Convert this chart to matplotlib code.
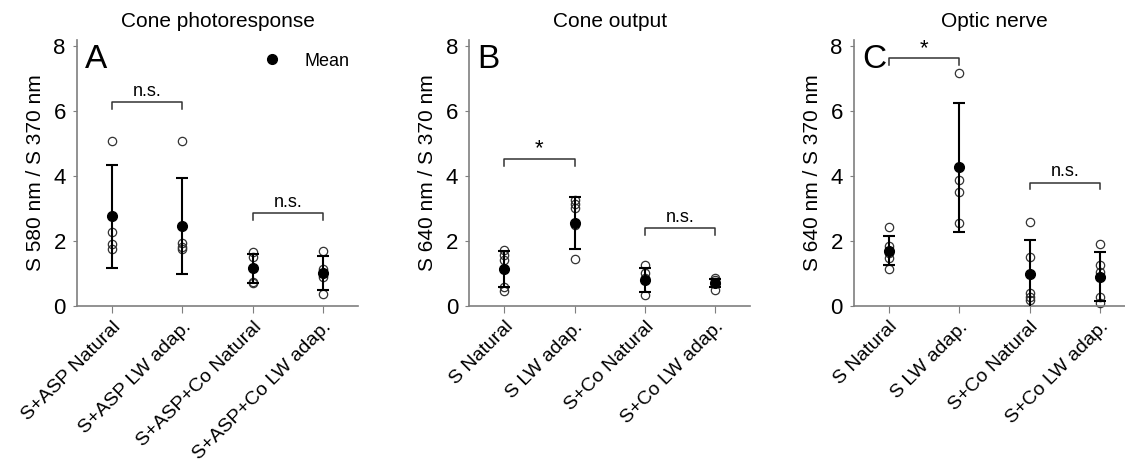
import matplotlib
matplotlib.use("Agg")
import matplotlib.pyplot as plt
from matplotlib.lines import Line2D

plt.rcParams["font.family"] = ["Liberation Sans", "DejaVu Sans"]

# --- Data ---
titles = ["Cone photoresponse", "Cone output", "Optic nerve"]
letters = ["A", "B", "C"]
ylabels = ["S 580 nm / S 370 nm", "S 640 nm / S 370 nm", "S 640 nm / S 370 nm"]

labels_a = ["S+ASP Natural", "S+ASP LW adap.", "S+ASP+Co Natural", "S+ASP+Co LW adap."]
labels_bc = ["S Natural", "S LW adap.", "S+Co Natural", "S+Co LW adap."]

# individual points per group
pts_a = [[5.09, 2.29, 1.91, 1.75], [5.09, 1.95, 1.83, 1.75],
         [1.66, 1.52, 0.75, 0.72], [1.69, 1.13, 0.88, 0.37]]
pts_b = [[1.73, 1.57, 1.42, 0.58, 0.47], [3.27, 3.14, 3.01, 2.50, 1.44],
         [1.26, 1.01, 0.85, 0.34], [0.85, 0.80, 0.75, 0.49]]
pts_c = [[2.43, 1.86, 1.62, 1.47, 1.13], [7.18, 3.87, 3.50, 2.55],
         [2.60, 1.52, 0.41, 0.29, 0.17], [1.91, 1.26, 1.06, 0.29, 0.10]]

mean_a = [2.76, 2.47, 1.16, 1.01]
mean_b = [1.13, 2.57, 0.80, 0.72]
mean_c = [1.70, 4.27, 0.99, 0.90]

sd_a = [1.58, 1.47, 0.44, 0.53]
sd_b = [0.55, 0.80, 0.36, 0.12]
sd_c = [0.45, 2.00, 1.04, 0.75]

# significance brackets: (group i, group j, height, text)
sig_a = [(0, 1, 6.28, "n.s."), (2, 3, 2.86, "n.s.")]
sig_b = [(0, 1, 4.53, "*"), (2, 3, 2.40, "n.s.")]
sig_c = [(0, 1, 7.64, "*"), (2, 3, 3.80, "n.s.")]

panels = [
    (labels_a, pts_a, mean_a, sd_a, sig_a),
    (labels_bc, pts_b, mean_b, sd_b, sig_b),
    (labels_bc, pts_c, mean_c, sd_c, sig_c),
]

# --- Figure ---
fig = plt.figure(figsize=(11.25, 4.65), dpi=100)
lefts = [0.0684, 0.417, 0.759]
spine_color = "#7f7f7f"

for k, (labels, pts, means, sds, sigs) in enumerate(panels):
    ax = fig.add_axes([lefts[k], 0.342, 0.25, 0.572])
    x = list(range(len(labels)))

    for i, vals in enumerate(pts):
        ax.plot([i] * len(vals), vals, linestyle="none", marker="o",
                markersize=6, markerfacecolor="none", markeredgecolor="#333333",
                markeredgewidth=0.9, clip_on=False, zorder=2)

    ax.errorbar(x, means, yerr=sds, fmt="none", ecolor="black",
                elinewidth=1.5, capsize=4, capthick=1.5, zorder=3)
    ax.plot(x, means, linestyle="none", marker="o", markersize=7,
            color="black", zorder=4, clip_on=False)

    for i, j, h, txt in sigs:
        ax.plot([i, i, j, j], [h - 0.2, h, h, h - 0.2], color="#333333",
                linewidth=1.1, zorder=2)
        if txt == "*":
            ax.text((i + j) / 2, h - 0.02, txt, ha="center", va="bottom",
                    fontsize=16)
        else:
            ax.text((i + j) / 2, h + 0.08, txt, ha="center", va="bottom",
                    fontsize=13)

    ax.set_xlim(-0.5, 3.5)
    ax.set_ylim(0, 8.2)
    ax.set_yticks([0, 2, 4, 6, 8])
    ax.set_xticks(x)
    ax.set_xticklabels(labels, rotation=45, ha="right", rotation_mode="anchor",
                       fontsize=14)
    ax.tick_params(axis="y", labelsize=16, length=3, color=spine_color, pad=5)
    ax.tick_params(axis="x", length=5, color=spine_color, pad=4)
    for side in ["top", "right"]:
        ax.spines[side].set_visible(False)
    for side in ["left", "bottom"]:
        ax.spines[side].set_color(spine_color)
        ax.spines[side].set_linewidth(1.2)

    ax.set_ylabel(ylabels[k], fontsize=15, labelpad=6)
    ax.set_title(titles[k], fontsize=15, pad=9)
    ax.text(0.03, 0.985, letters[k], transform=ax.transAxes, ha="left",
            va="top", fontsize=24)

    if k == 0:
        handle = Line2D([], [], linestyle="none", marker="o", markersize=7,
                        color="black")
        ax.legend([handle], ["Mean"], loc="upper right", frameon=False,
                  fontsize=13, handletextpad=0.8, borderaxespad=0.6,
                  bbox_to_anchor=(1.035, 1.02))

fig.savefig("out.png", dpi=100)
